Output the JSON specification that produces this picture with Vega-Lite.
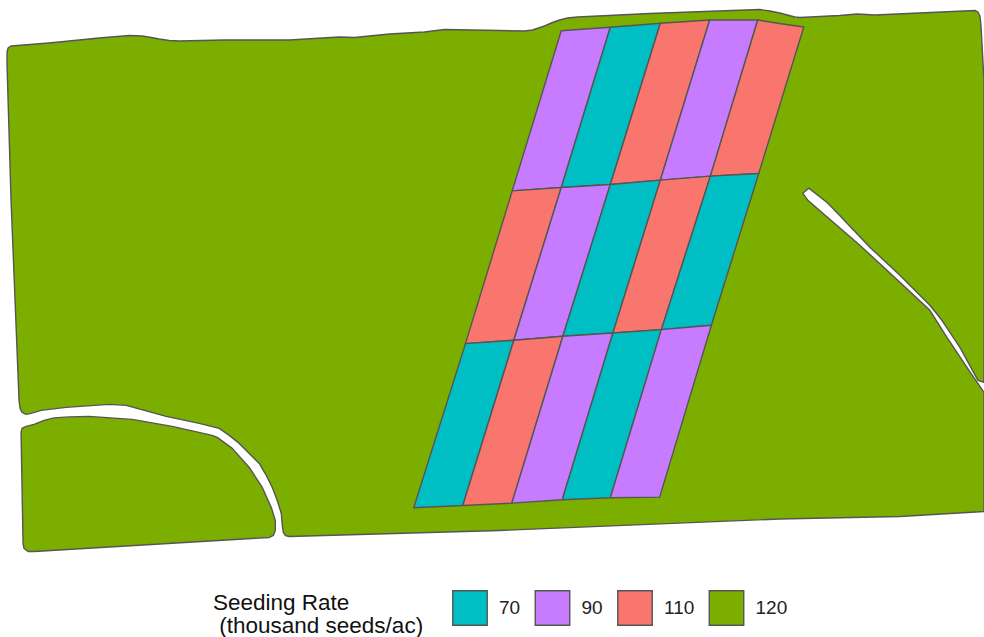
{
"$schema":"https://vega.github.io/schema/vega-lite/v6.json",
"width":977,"height":542,
"padding":{"left":7,"top":9.5,"right":0,"bottom":85},
"autosize":"none",
"background":"white",
"view":{"stroke":null},
"projection":{"type":"identity"},
"data":{"values":[
{"type":"Feature","properties":{"plot":"field","rate":"120"},"geometry":{"type":"Polygon","coordinates":[[[8,52],[9,48],[12,46],[50,43],[100,38],[130,35.5],[143,36],[152,37.5],[160,39],[170,40.5],[180,41],[225,40],[290,40],[340,37],[355,37.5],[390,34],[425,32],[437,30.5],[445,29.5],[500,30.5],[525,31],[533,30],[545,26],[553,22.5],[560,20],[568,18],[578,17],[650,13.5],[760,9.5],[770,11],[780,13],[795,17],[800,17.5],[840,15.5],[857,14],[875,15],[975,10.5],[978,12],[980,16],[981,25],[984,80],[984,382],[978,380],[960,347],[942,320],[930,305],[900,275],[870,247],[833,208],[827,202],[809,188],[803,193],[808,200],[860,245],[900,282],[930,310],[947,337],[967,367],[984,392],[984,511],[900,516],[780,518.5],[500,530],[290,536],[286,535],[284,532],[283,525],[282,513],[278,500],[273,487],[267,475],[260,463],[250,453],[240,443],[230,435],[220,428],[200,423],[167,416],[127,405],[110,404],[67,407],[42,410],[32,413],[27,414],[23,412],[21,408],[20,400],[12,200],[8,65],[8,52]]]}},
{"type":"Feature","properties":{"plot":"south","rate":"120"},"geometry":{"type":"Polygon","coordinates":[[[22,432],[23,428],[27,426],[35,424],[45,420],[55,417.5],[70,416.5],[90,416],[133,419],[173,426],[213,435],[218,437],[233,448],[250,467],[263,487],[272,507],[276,520],[276,530],[274,535],[270,537],[35,551],[29,551],[25,548],[24,543],[22,432]]]}},
{"type":"Feature","properties":{"plot":"r1c1","rate":"90"},"geometry":{"type":"Polygon","coordinates":[[[561.7,30.7],[610.7,27.3],[561.7,187.3],[512.7,190.7],[561.7,30.7]]]}},
{"type":"Feature","properties":{"plot":"r1c2","rate":"70"},"geometry":{"type":"Polygon","coordinates":[[[610.7,27.3],[660.7,23.3],[610.7,184.3],[561.7,187.3],[610.7,27.3]]]}},
{"type":"Feature","properties":{"plot":"r1c3","rate":"110"},"geometry":{"type":"Polygon","coordinates":[[[660.7,23.3],[710,20],[660.7,180],[610.7,184.3],[660.7,23.3]]]}},
{"type":"Feature","properties":{"plot":"r1c4","rate":"90"},"geometry":{"type":"Polygon","coordinates":[[[710,20],[758,20],[710.7,176],[660.7,180],[710,20]]]}},
{"type":"Feature","properties":{"plot":"r1c5","rate":"110"},"geometry":{"type":"Polygon","coordinates":[[[758,20],[783,24],[804,27],[759,173.3],[710.7,176],[758,20]]]}},
{"type":"Feature","properties":{"plot":"r2c1","rate":"110"},"geometry":{"type":"Polygon","coordinates":[[[512.7,190.7],[561.7,187.3],[514.3,340],[466,343.3],[512.7,190.7]]]}},
{"type":"Feature","properties":{"plot":"r2c2","rate":"90"},"geometry":{"type":"Polygon","coordinates":[[[561.7,187.3],[610.7,184.3],[563.3,336],[514.3,340],[561.7,187.3]]]}},
{"type":"Feature","properties":{"plot":"r2c3","rate":"70"},"geometry":{"type":"Polygon","coordinates":[[[610.7,184.3],[660.7,180],[613.3,332.7],[563.3,336],[610.7,184.3]]]}},
{"type":"Feature","properties":{"plot":"r2c4","rate":"110"},"geometry":{"type":"Polygon","coordinates":[[[660.7,180],[710.7,176],[661.7,329.3],[613.3,332.7],[660.7,180]]]}},
{"type":"Feature","properties":{"plot":"r2c5","rate":"70"},"geometry":{"type":"Polygon","coordinates":[[[710.7,176],[759,173.3],[711.7,325],[661.7,329.3],[710.7,176]]]}},
{"type":"Feature","properties":{"plot":"r3c1","rate":"70"},"geometry":{"type":"Polygon","coordinates":[[[466,343.3],[514.3,340],[463.3,505],[414.3,507.3],[466,343.3]]]}},
{"type":"Feature","properties":{"plot":"r3c2","rate":"110"},"geometry":{"type":"Polygon","coordinates":[[[514.3,340],[563.3,336],[512.3,502.7],[463.3,505],[514.3,340]]]}},
{"type":"Feature","properties":{"plot":"r3c3","rate":"90"},"geometry":{"type":"Polygon","coordinates":[[[563.3,336],[613.3,332.7],[562.7,499.3],[512.3,502.7],[563.3,336]]]}},
{"type":"Feature","properties":{"plot":"r3c4","rate":"70"},"geometry":{"type":"Polygon","coordinates":[[[613.3,332.7],[661.7,329.3],[610.7,497.3],[562.7,499.3],[613.3,332.7]]]}},
{"type":"Feature","properties":{"plot":"r3c5","rate":"90"},"geometry":{"type":"Polygon","coordinates":[[[661.7,329.3],[711.7,325],[660,496.7],[610.7,497.3],[661.7,329.3]]]}}
]},
"mark":{"type":"geoshape","stroke":"#555555","strokeWidth":1.4,"strokeJoin":"round"},
"encoding":{
"color":{"field":"properties.rate","type":"nominal",
"scale":{"domain":["70","90","110","120"],"range":["#00BFC4","#C77CFF","#F8766D","#7CAE00"]},
"legend":{"title":["Seeding Rate","\u200b\u00a0(thousand seeds/ac)"],"orient":"none","legendX":206,"legendY":580,"direction":"horizontal","titleOrient":"left","titleFont":"Liberation Sans","titleFontSize":22.5,"titleFontWeight":"normal","titleColor":"#111111","titleLineHeight":23,"titlePadding":28,"titleLimit":400,"labelFont":"Liberation Sans","labelFontSize":19,"labelColor":"#222222","labelOffset":11,"symbolType":"square","symbolSize":1190,"symbolStrokeColor":"#555555","symbolStrokeWidth":1.4,"columnPadding":10.5,"encoding":{"title":{"dy":{"value":5}}}}}
},
"config":{"legend":{"symbolOpacity":1}}
}
